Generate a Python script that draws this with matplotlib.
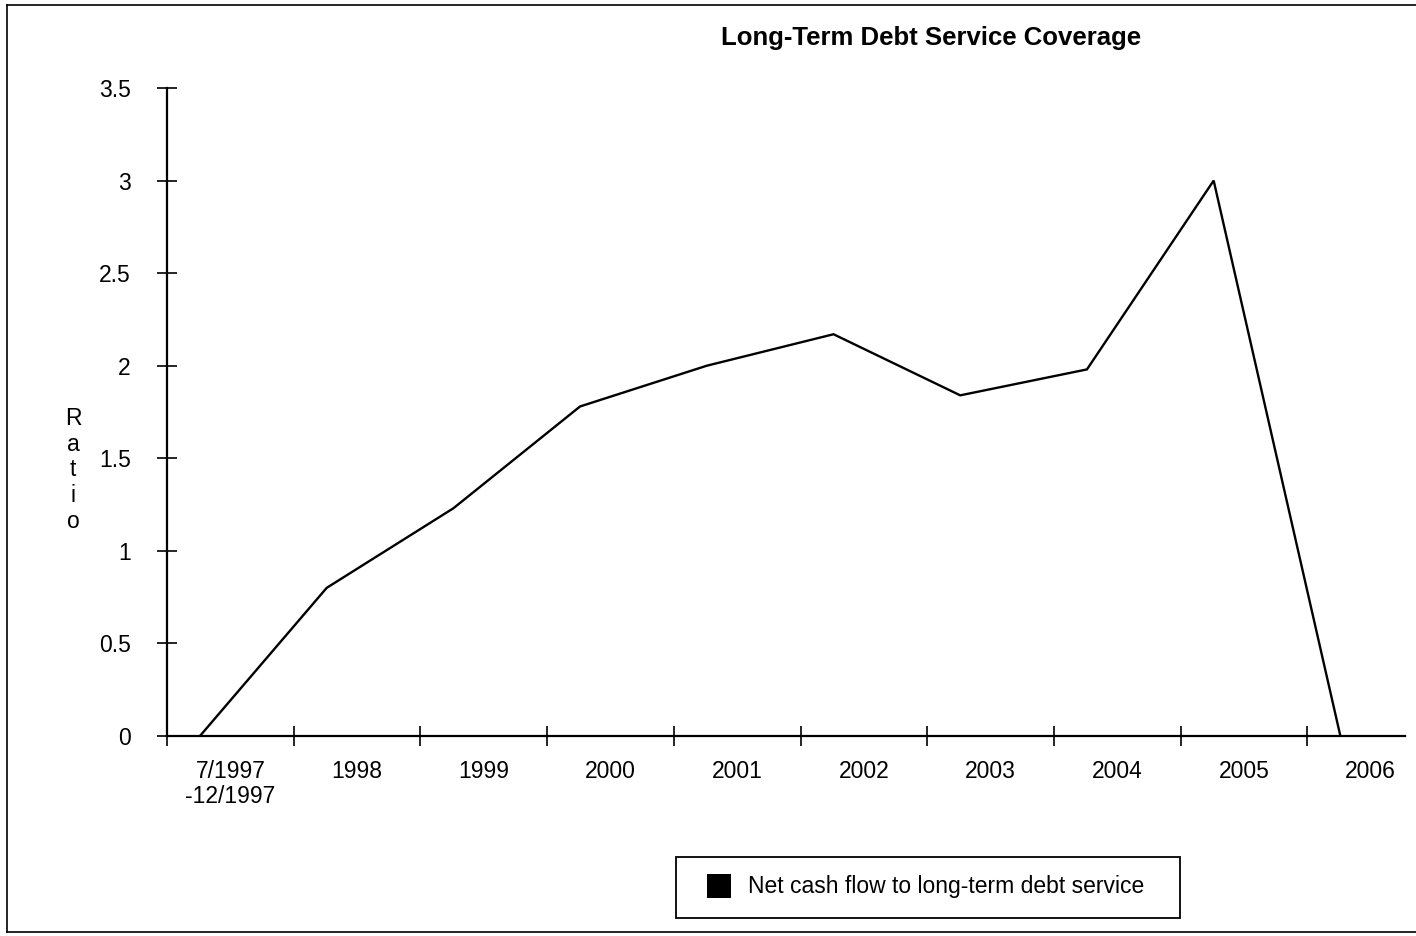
import matplotlib
matplotlib.use("Agg")
import matplotlib.pyplot as plt
from matplotlib.patches import Rectangle
from matplotlib.lines import Line2D

plt.rcParams['font.family'] = ['Liberation Sans', 'DejaVu Sans']

# Category labels and debt service coverage ratios
periods = ["7/1997\n-12/1997", "1998", "1999", "2000", "2001",
           "2002", "2003", "2004", "2005", "2006"]
coverage = [0.0, 0.80, 1.23, 1.78, 2.00, 2.17, 1.84, 1.98, 3.00, 0.0]
y_ticks = [0, 0.5, 1, 1.5, 2, 2.5, 3, 3.5]
y_tick_labels = ["0", "0.5", "1", "1.5", "2", "2.5", "3", "3.5"]
series_name = "Net cash flow to long-term debt service"

W, H = 1416, 936
fig = plt.figure(figsize=(W / 100, H / 100), dpi=100)
ax = fig.add_axes([167 / W, 1 - 736 / H, (1405 - 167) / W, (736 - 88) / H])

n = len(periods)
idx = list(range(n))
# points sit a quarter of the way into each category band
xs = [i + 0.26 for i in idx]
ax.plot(xs, coverage, color="black", lw=1.7, solid_joinstyle="miter")

ax.set_xlim(0, 9.77)
ax.set_ylim(0, 3.5)
ax.set_yticks(y_ticks)
ax.set_yticklabels(y_tick_labels, fontsize=16.5)
ax.set_xticks(idx)
ax.set_xticklabels([])
ax.set_xticks([i + 0.5 for i in idx], minor=True)
ax.set_xticklabels(periods, minor=True, fontsize=16.5, linespacing=1.15)
ax.tick_params(axis="x", which="minor", length=0, pad=17)
ax.tick_params(axis="x", which="major", direction="inout", length=14, width=1.2)
ax.tick_params(axis="y", direction="inout", length=14, width=1.2, pad=19)

for side in ("top", "right"):
    ax.spines[side].set_visible(False)
for side in ("left", "bottom"):
    ax.spines[side].set_linewidth(1.6)

fig.text(73 / W, 1 - 470 / H, "R\na\nt\ni\no", ha="center", va="center",
         fontsize=16.5, linespacing=1.15)

fig.text(931 / W, 1 - 38 / H, "Long-Term Debt Service Coverage",
         ha="center", va="center", fontsize=18.5, fontweight="bold")

# legend box with a filled square key
fig.add_artist(Rectangle((676 / W, 1 - 918 / H), (1180 - 676) / W, (918 - 857) / H,
                         transform=fig.transFigure, facecolor="white",
                         edgecolor="black", lw=1.3))
fig.add_artist(Rectangle((707 / W, 1 - 898 / H), 24 / W, 24 / H,
                         transform=fig.transFigure, facecolor="black",
                         edgecolor="black", lw=0))
fig.text(748 / W, 1 - 887 / H, series_name, ha="left", va="center", fontsize=16.5)

# outer chart frame
for xa, ya in (([7, 1416], [5, 5]), ([7, 7], [5, 932]), ([7, 1416], [932, 932])):
    fig.add_artist(Line2D([x / W for x in xa], [1 - y / H for y in ya],
                          transform=fig.transFigure, color="black", lw=1.2))

fig.savefig("out.png", dpi=100, facecolor="white")
